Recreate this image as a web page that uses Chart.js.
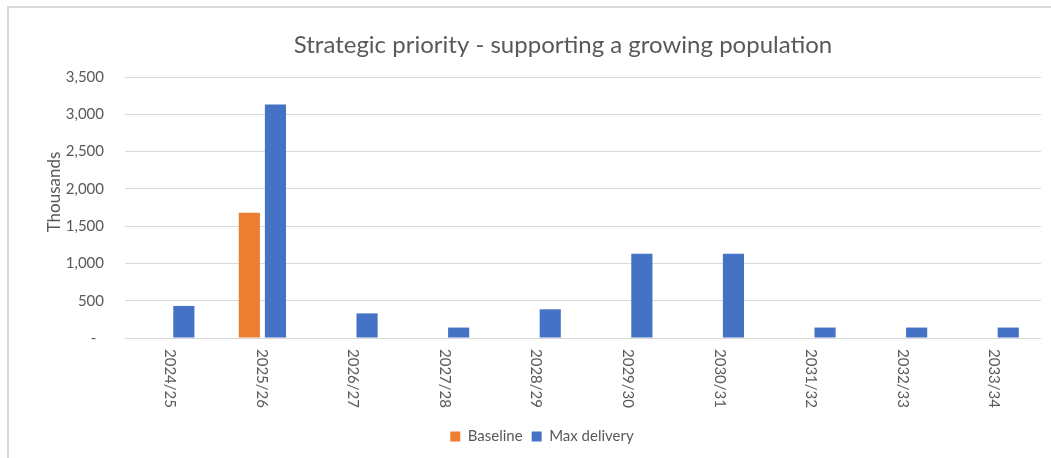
<!DOCTYPE html>
<html>
<head>
<meta charset="utf-8">
<script src="https://cdn.jsdelivr.net/npm/chart.js@4.4.1/dist/chart.umd.min.js"></script>
<style>
  html, body { margin: 0; padding: 0; background: #fff; }
  canvas { display: block; }
</style>
</head>
<body>
<canvas id="priority-chart" width="1051" height="458"></canvas>
<script>
// Chart values (thousands)
const years = ['2024/25', '2025/26', '2026/27', '2027/28', '2028/29', '2029/30', '2030/31', '2031/32', '2032/33', '2033/34'];
const baseline = [null, 1680, null, null, null, null, null, null, null, null];
const maxDelivery = [430, 3130, 330, 140, 385, 1130, 1130, 140, 140, 140];
const yTicks = [0, 500, 1000, 1500, 2000, 2500, 3000, 3500];

const chartTitle = 'Strategic priority - supporting a growing population';
const axisTitle = 'Thousands';
const textColor = '#595959';
const fontFamily = 'Lato, "Open Sans", sans-serif';

// draws the frame, title, y title and the downward reading year labels
const extrasPlugin = {
    id: 'extras',
    beforeDraw(chart) {
        const ctx = chart.ctx;
        ctx.save();
        ctx.fillStyle = '#ffffff';
        ctx.fillRect(0, 0, chart.width, chart.height);
        ctx.strokeStyle = '#d9d9d9';
        ctx.lineWidth = 2;
        ctx.beginPath();
        ctx.moveTo(8, chart.height);
        ctx.lineTo(8, 7);
        ctx.lineTo(chart.width, 7);
        ctx.stroke();
        ctx.restore();
    },
    afterDraw(chart) {
        const ctx = chart.ctx;
        const xScale = chart.scales.x;
        ctx.save();
        ctx.fillStyle = textColor;

        ctx.font = '24px ' + fontFamily;
        ctx.textAlign = 'center';
        ctx.textBaseline = 'middle';
        ctx.fillText(chartTitle, 563, 45);

        ctx.font = '17px ' + fontFamily;
        ctx.translate(55, 192);
        ctx.rotate(-Math.PI / 2);
        ctx.fillText(axisTitle, 0, 0);
        ctx.setTransform(1, 0, 0, 1, 0, 0);

        ctx.font = '15px ' + fontFamily;
        ctx.textAlign = 'left';
        years.forEach(function (label, i) {
            const x = xScale.getPixelForValue(i);
            ctx.save();
            ctx.translate(x - 1, xScale.top + 11);
            ctx.rotate(Math.PI / 2);
            ctx.fillText(label, 0, 0);
            ctx.restore();
        });
        ctx.restore();
    }
};

const ctx = document.getElementById('priority-chart').getContext('2d');

new Chart(ctx, {
    type: 'bar',
    data: {
        labels: years,
        datasets: [
            {
                label: 'Baseline',
                data: baseline,
                backgroundColor: '#ED7D31',
                categoryPercentage: 0.57,
                barPercentage: 0.81
            },
            {
                label: 'Max delivery',
                data: maxDelivery,
                backgroundColor: '#4472C4',
                categoryPercentage: 0.57,
                barPercentage: 0.81
            }
        ]
    },
    options: {
        responsive: false,
        animation: false,
        layout: {
            padding: { left: 43, right: 10, top: 77, bottom: 4 }
        },
        plugins: {
            title: { display: false },
            tooltip: { enabled: false },
            legend: {
                position: 'bottom',
                labels: {
                    color: textColor,
                    font: { family: fontFamily, size: 15 },
                    boxWidth: 10,
                    boxHeight: 10,
                    padding: 9
                }
            }
        },
        scales: {
            x: {
                grid: { display: false },
                border: { display: false },
                ticks: { display: false },
                afterFit(scale) {
                    scale.height = 82;
                }
            },
            y: {
                min: 0,
                max: 3500,
                afterBuildTicks(scale) {
                    scale.ticks = yTicks.map(function (v) { return { value: v }; });
                },
                grid: { color: '#d9d9d9', lineWidth: 1, drawTicks: false },
                border: { display: false },
                ticks: {
                    color: textColor,
                    font: { family: fontFamily, size: 15 },
                    padding: 21,
                    callback: function (value) {
                        return value === 0 ? '-  ' : value.toLocaleString('en-US');
                    }
                },
                afterFit(scale) {
                    scale.width = 82;
                }
            }
        }
    },
    plugins: [extrasPlugin]
});
</script>
</body>
</html>
